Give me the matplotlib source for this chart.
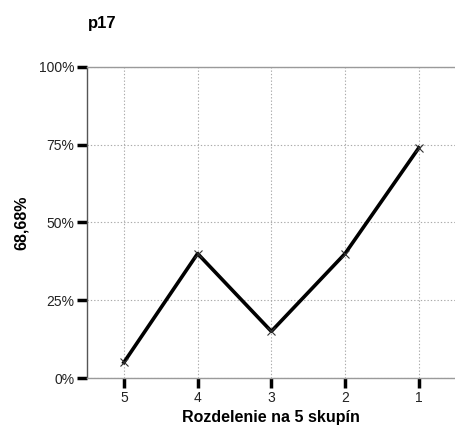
import matplotlib
matplotlib.use("Agg")
import matplotlib.pyplot as plt
from matplotlib.ticker import PercentFormatter

plt.rcParams['font.family'] = ['Liberation Sans', 'DejaVu Sans']

# Data
groups = ["5", "4", "3", "2", "1"]
values = [5, 40, 15, 40, 74]
y_ticks = [0, 25, 50, 75, 100]

fig = plt.figure(figsize=(4.56, 4.28), dpi=100)
ax = fig.add_axes([0.1908, 0.1168, 0.8085, 0.7267])

x = range(len(groups))
ax.plot(x, values, color='black', linewidth=2.6, marker='x',
        markersize=6, markeredgewidth=0.8, markeredgecolor='#333333', zorder=3)

ax.set_xlim(-0.5, len(groups) - 0.5)
ax.set_ylim(0, 100)
ax.set_xticks(list(x))
ax.set_xticklabels(groups)
ax.set_yticks(y_ticks)
ax.yaxis.set_major_formatter(PercentFormatter(decimals=0))

ax.grid(True, color='#aaaaaa', linestyle=(0, (1.2, 1.8)), linewidth=0.8)
ax.set_axisbelow(True)

for side in ['top', 'right', 'bottom', 'left']:
    ax.spines[side].set_color('#9a9a9a')
    ax.spines[side].set_linewidth(1.0)
ax.spines['left'].set_color('#555555')

ax.tick_params(axis='both', length=7, width=2.5, color='black',
               labelsize=10, labelcolor='#222222', pad=2)

ax.set_xlabel('Rozdelenie na 5 skupín', fontsize=11.5, fontweight='bold', labelpad=4)
ax.set_ylabel('68,68%', fontsize=11.5, fontweight='bold', labelpad=7)
fig.text(0.193, 0.944, 'p17', fontsize=12, fontweight='bold', va='center', ha='left')

fig.savefig('out.png', dpi=100)
